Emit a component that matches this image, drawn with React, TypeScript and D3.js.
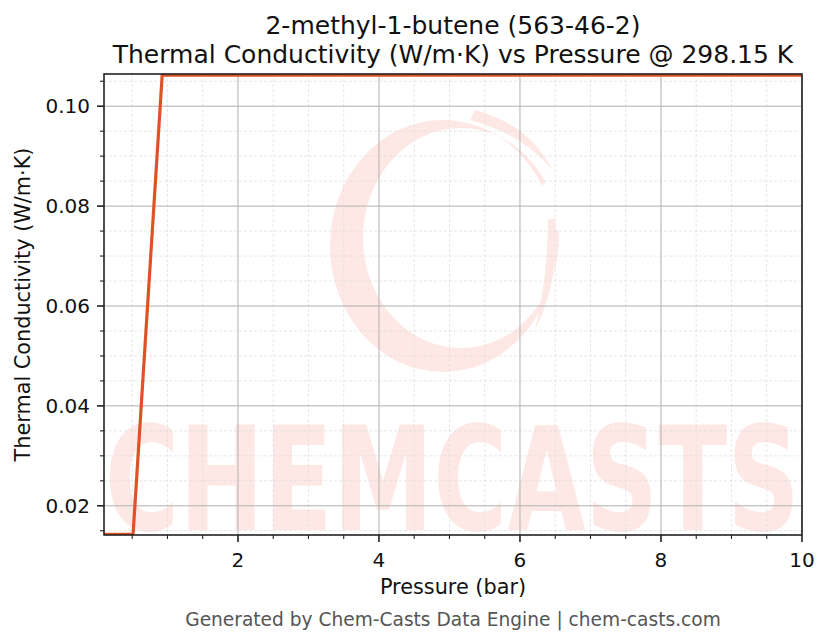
import React from "react";
import * as d3 from "d3";

const pressures = [0.1, 0.5125, 0.925, 1.3375, 1.75, 2.1625, 2.575, 2.9875, 3.4, 3.8125, 4.225, 4.6375, 5.05, 5.4625, 5.875, 6.2875, 6.7, 7.1125, 7.525, 7.9375, 8.35, 8.7625, 9.175, 9.5875, 10];
const conductivity = [0.0143, 0.0143, 0.1062, 0.1062, 0.1062, 0.1062, 0.1062, 0.1062, 0.1062, 0.1062, 0.1062, 0.1062, 0.1062, 0.1062, 0.1062, 0.1062, 0.1062, 0.1062, 0.1062, 0.1062, 0.1062, 0.1062, 0.1062, 0.1062, 0.1062];
const xMajorTicks = [2, 4, 6, 8, 10];
const xMinorTicks = [0.5, 1, 1.5, 2.5, 3, 3.5, 4.5, 5, 5.5, 6.5, 7, 7.5, 8.5, 9, 9.5];
const yMajorTicks = [0.02, 0.04, 0.06, 0.08, 0.1];
const yMinorTicks = [0.015, 0.025, 0.03, 0.035, 0.045, 0.05, 0.055, 0.065, 0.07, 0.075, 0.085, 0.09, 0.095, 0.105];
const titleLines = ["2-methyl-1-butene (563-46-2)", "Thermal Conductivity (W/m·K) vs Pressure @ 298.15 K"];
const xLabel = "Pressure (bar)";
const yLabel = "Thermal Conductivity (W/m·K)";
const footer = "Generated by Chem-Casts Data Engine | chem-casts.com";

const W = 830, H = 644;
const L = 104, R = 802, T = 74, B = 535;
const font = "'DejaVu Sans', sans-serif";
const wm = "#fee8e5";

export default function App() {
  const x = d3.scaleLinear().domain([0.1, 10]).range([L, R]);
  const y = d3.scaleLinear().domain([0.01415, 0.10645]).range([B, T]);
  const line = d3.line<number>().x((_, i) => x(pressures[i])).y((d) => y(d));
  const cx = (L + R) / 2;
  const wmCx = 443, wmCy = 246;
  const outer = `M ${wmCx - 113} ${wmCy} a 113 126 0 1 0 226 0 a 113 126 0 1 0 -226 0 Z`;
  const inner = `M ${wmCx - 80} ${wmCy - 8} a 98 110 0 1 0 196 0 a 98 110 0 1 0 -196 0 Z`;
  return (
    <svg width={W} height={H} style={{ position: "absolute", left: 0, top: 0, background: "#fff" }}>
      <defs>
        <clipPath id="plot"><rect x={L} y={T} width={R - L} height={B - T} /></clipPath>
        <clipPath id="ring"><path d={`M 300 80 L 600 80 L 600 150 L ${wmCx} ${wmCy} L 600 225 L 600 400 L 300 400 Z`} /></clipPath>
      </defs>
      {/* watermark */}
      <g>
        <path d={outer + " " + inner} fill={wm} fillRule="evenodd" clipPath="url(#ring)" />
        <path d={`M 475 110 Q 530 125 552 170 Q 525 135 470 120 Z`} fill={wm} />
        <path d={`M 555 218 Q 560 280 535 330 Q 548 275 548 220 Z`} fill={wm} />
        <text x={105} y={530} fontFamily={font} fontWeight="bold" fontSize={144} fill={wm} textLength={695} lengthAdjust="spacingAndGlyphs" clipPath="url(#plot)">CHEMCASTS</text>
      </g>
      {/* minor grid */}
      <g stroke="#dcdcdc" strokeWidth={0.7} strokeDasharray="3,2">
        {xMinorTicks.map((t) => <line key={"xm" + t} x1={x(t)} x2={x(t)} y1={T} y2={B} />)}
        {yMinorTicks.map((t) => <line key={"ym" + t} x1={L} x2={R} y1={y(t)} y2={y(t)} />)}
      </g>
      {/* major grid */}
      <g stroke="#b0b0b0" strokeWidth={1}>
        {xMajorTicks.map((t) => <line key={"xM" + t} x1={x(t)} x2={x(t)} y1={T} y2={B} />)}
        {yMajorTicks.map((t) => <line key={"yM" + t} x1={L} x2={R} y1={y(t)} y2={y(t)} />)}
      </g>
      <path d={line(conductivity) || ""} fill="none" stroke="#df5226" strokeWidth={3.2} strokeLinejoin="round" clipPath="url(#plot)" />
      {/* spines */}
      <rect x={L} y={T} width={R - L} height={B - T} fill="none" stroke="#222" strokeWidth={1.6} />
      {/* ticks */}
      <g stroke="#222">
        {xMajorTicks.map((t) => <line key={"xt" + t} x1={x(t)} x2={x(t)} y1={B} y2={B + 7} strokeWidth={1.6} />)}
        {xMinorTicks.map((t) => <line key={"xmt" + t} x1={x(t)} x2={x(t)} y1={B} y2={B + 4} strokeWidth={1.1} />)}
        {yMajorTicks.map((t) => <line key={"yt" + t} x1={L - 7} x2={L} y1={y(t)} y2={y(t)} strokeWidth={1.6} />)}
        {yMinorTicks.map((t) => <line key={"ymt" + t} x1={L - 4} x2={L} y1={y(t)} y2={y(t)} strokeWidth={1.1} />)}
      </g>
      <g fontFamily={font} fontSize={20} fill="#111">
        {xMajorTicks.map((t) => <text key={"xl" + t} x={x(t)} y={B + 32} textAnchor="middle">{d3.format("d")(t)}</text>)}
        {yMajorTicks.map((t) => <text key={"yl" + t} x={L - 14} y={y(t)} dy="0.36em" textAnchor="end">{d3.format(".2f")(t)}</text>)}
      </g>
      <g fontFamily={font} fontSize={20.8} fill="#111">
        <text x={cx} y={594} textAnchor="middle">{xLabel}</text>
        <text transform={`translate(30,${(T + B) / 2}) rotate(-90)`} textAnchor="middle">{yLabel}</text>
      </g>
      <g fontFamily={font} fontSize={25} fill="#111" textAnchor="middle">
        <text x={cx} y={34}>{titleLines[0]}</text>
        <text x={cx} y={63}>{titleLines[1]}</text>
      </g>
      <text x={cx} y={626} fontFamily={font} fontSize={18.6} fill="#555" textAnchor="middle">{footer}</text>
    </svg>
  );
}
